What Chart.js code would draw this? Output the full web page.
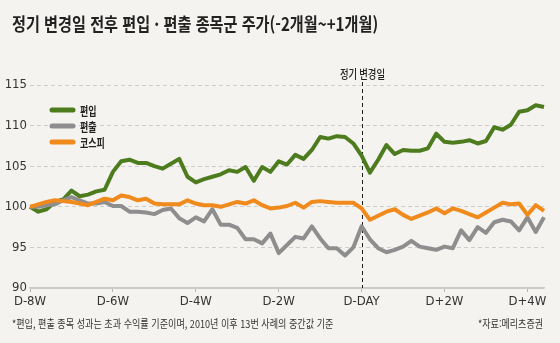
<!DOCTYPE html>
<html lang="ko">
<head>
<meta charset="utf-8">
<script src="https://cdn.jsdelivr.net/npm/chart.js@4.4.1/dist/chart.umd.min.js"></script>
<style>
  html, body { margin: 0; padding: 0; background: #f4f3ef; }
  #wrap { position: relative; width: 560px; height: 343px; overflow: hidden; }
  #chart { position: absolute; left: 0; top: 0; }
  .fit { position: absolute; white-space: nowrap; transform-origin: 0 0; line-height: 1;
         font-family: "Noto Sans CJK KR", "Noto Sans", sans-serif; color: #222; }
  #title { left: 12px; top: 14px; font-size: 18px; font-weight: 700; }
  #note { left: 12px; top: 318px; font-size: 11px; color: #333; }
  #src { top: 318px; font-size: 11px; color: #333; }
</style>
</head>
<body>
<div id="wrap">
  <canvas id="chart" width="560" height="343"></canvas>
  <div id="title" class="fit" data-w="366">정기 변경일 전후 편입 · 편출 종목군 주가(-2개월~+1개월)</div>
  <div id="note" class="fit" data-w="321">*편입, 편출 종목 성과는 초과 수익률 기준이며, 2010년 이후 13번 사례의 중간값 기준</div>
  <div id="src" class="fit" data-w="65" data-right="543">*자료:메리츠증권</div>
</div>
<script>
// trading days relative to the index rebalancing date
const days = [-40,-39,-38,-37,-36,-35,-34,-33,-32,-31,-30,-29,-28,-27,-26,-25,-24,-23,-22,-21,
              -20,-19,-18,-17,-16,-15,-14,-13,-12,-11,-10,-9,-8,-7,-6,-5,-4,-3,-2,-1,
              0,1,2,3,4,5,6,7,8,9,10,11,12,13,14,15,16,17,18,19,20,21,22];

// 편입 (added stocks)
const added = [100.0,99.4,99.7,100.6,100.9,102.0,101.3,101.5,101.9,102.1,
               104.3,105.6,105.8,105.4,105.4,105.0,104.7,105.3,105.9,103.7,
               103.0,103.4,103.7,104.0,104.5,104.3,104.9,103.2,104.9,104.3,
               105.6,105.2,106.4,105.9,107.0,108.6,108.4,108.7,108.6,107.8,
               106.3,104.2,105.8,107.6,106.5,107.0,106.9,106.9,107.2,109.0,
               108.0,107.9,108.0,108.2,107.8,108.1,109.8,109.5,110.1,111.7,
               111.9,112.5,112.3];

// 편출 (removed stocks)
const removed = [100.0,100.0,100.2,100.3,100.8,101.2,100.8,100.4,100.4,100.6,
                 100.1,100.1,99.4,99.4,99.3,99.1,99.6,99.8,98.6,98.0,
                 98.7,98.2,99.7,97.8,97.8,97.4,96.0,96.0,95.5,96.7,
                 94.3,95.3,96.3,96.1,97.6,96.1,94.9,94.9,94.0,95.0,
                 97.6,96.0,94.9,94.4,94.7,95.1,95.8,95.1,94.9,94.7,
                 95.1,94.9,97.1,95.9,97.5,96.8,98.1,98.4,98.2,97.1,
                 98.7,96.9,98.7];

// 코스피 (KOSPI)
const kospi = [100.0,100.3,100.6,100.8,100.7,100.6,100.4,100.2,100.6,101.0,
               100.8,101.4,101.2,100.8,101.0,100.4,100.3,100.3,100.3,100.8,
               100.4,100.2,100.2,100.0,100.3,100.6,100.4,100.8,100.2,99.8,
               99.9,100.1,100.5,99.9,100.6,100.7,100.6,100.5,100.5,100.5,
               99.8,98.4,98.9,99.4,99.7,99.0,98.5,98.9,99.3,99.8,
               99.2,99.8,99.5,99.1,98.7,99.3,99.9,100.5,100.3,100.4,
               99.0,100.2,99.5];

const tickDays = [-40, -30, -20, -10, 0, 10, 20];
const tickLabels = ['D-8W', 'D-6W', 'D-4W', 'D-2W', 'D-DAY', 'D+2W', 'D+4W'];
const markerDay = 0;
const markerLabel = '정기 변경일';

const NUM_FONT = '"Liberation Sans Narrow", "Arial Narrow", "DejaVu Sans Condensed", "Liberation Sans", sans-serif';
const KR_FONT = '"Noto Sans CJK KR", sans-serif';

// draw text squeezed horizontally (condensed gothic look)
function drawScaled(ctx, text, x, y, sx) {
  ctx.save();
  ctx.translate(x, y);
  ctx.scale(sx, 1);
  ctx.fillText(text, 0, 0);
  ctx.restore();
}

// dashed vertical marker at the rebalancing date
const refLine = {
  id: 'refLine',
  beforeDatasetsDraw(chart) {
    const { ctx, chartArea, scales: { x } } = chart;
    const px = Math.round(x.getPixelForValue(days.indexOf(markerDay))) + 0.5;
    ctx.save();
    ctx.strokeStyle = '#1e1e1e';
    ctx.lineWidth = 1;
    ctx.setLineDash([4, 3]);
    ctx.beginPath();
    ctx.moveTo(px, chartArea.top - 3);
    ctx.lineTo(px, chartArea.bottom);
    ctx.stroke();
    ctx.setLineDash([]);
    ctx.fillStyle = '#222';
    ctx.font = '500 12px ' + KR_FONT;
    ctx.textAlign = 'center';
    ctx.textBaseline = 'middle';
    drawScaled(ctx, markerLabel, px, chartArea.top - 11, 0.78);
    ctx.restore();
  }
};

// legend drawn inside the plot, upper left
const legendBox = {
  id: 'legendBox',
  afterDatasetsDraw(chart) {
    const { ctx, chartArea } = chart;
    chart.data.datasets.forEach((ds, i) => {
      const y = chartArea.top + 25 + i * 16;
      const x0 = chartArea.left + 20;
      ctx.save();
      ctx.strokeStyle = ds.borderColor;
      ctx.lineWidth = 5;
      ctx.lineCap = 'round';
      ctx.beginPath();
      ctx.moveTo(x0 + 2, y);
      ctx.lineTo(x0 + 23, y);
      ctx.stroke();
      ctx.fillStyle = '#222';
      ctx.font = 'bold 12px ' + KR_FONT;
      ctx.textAlign = 'left';
      ctx.textBaseline = 'middle';
      drawScaled(ctx, ds.label, x0 + 30, y + 1, 0.75);
      ctx.restore();
    });
  }
};

const lineStyle = { borderWidth: 4, pointRadius: 0, tension: 0, fill: false,
                    borderJoinStyle: 'round', borderCapStyle: 'butt' };

new Chart(document.getElementById('chart'), {
  type: 'line',
  data: {
    labels: days,
    datasets: [
      { label: '편입', data: added, borderColor: '#4d7c1f', order: 2, ...lineStyle },
      { label: '편출', data: removed, borderColor: '#8e8e8e', order: 1, ...lineStyle },
      { label: '코스피', data: kospi, borderColor: '#f08a1c', order: 0, ...lineStyle }
    ]
  },
  options: {
    responsive: false,
    animation: false,
    layout: { padding: { left: 0, right: 16, top: 85, bottom: 25 } },
    plugins: { legend: { display: false }, tooltip: { enabled: false } },
    scales: {
      x: {
        type: 'category',
        offset: false,
        grid: {
          display: true, drawOnChartArea: false, drawTicks: true, tickLength: 4, lineWidth: 1,
          color: c => tickDays.includes(days[c.index]) ? '#b8b8b8' : 'rgba(0,0,0,0)'
        },
        border: { display: true, color: '#c9c9c9', width: 1.5 },
        ticks: {
          autoSkip: false, maxRotation: 0, minRotation: 0, padding: 2, color: '#333',
          font: { family: NUM_FONT, size: 13 },
          callback: (v, i) => {
            const k = tickDays.indexOf(days[i]);
            return k >= 0 ? tickLabels[k] : '';
          }
        },
        afterFit: s => { s.height = 30; }
      },
      y: {
        min: 90, max: 115,
        ticks: { stepSize: 5, padding: 3, color: '#333', font: { family: NUM_FONT, size: 13 } },
        grid: { drawTicks: false, color: '#cdcdcd', lineWidth: 1 },
        border: { display: false, dash: c => (c.tick && c.tick.value === 90) ? [] : [4, 3] },
        afterFit: s => { s.width = 30; }
      }
    }
  },
  plugins: [refLine, legendBox]
});

// squeeze the html captions to their set widths
document.querySelectorAll('.fit').forEach(el => {
  const w = +el.dataset.w;
  el.style.transform = 'scaleX(' + (w / el.offsetWidth) + ')';
  if (el.dataset.right) el.style.left = (+el.dataset.right - w) + 'px';
});
</script>
</body>
</html>
